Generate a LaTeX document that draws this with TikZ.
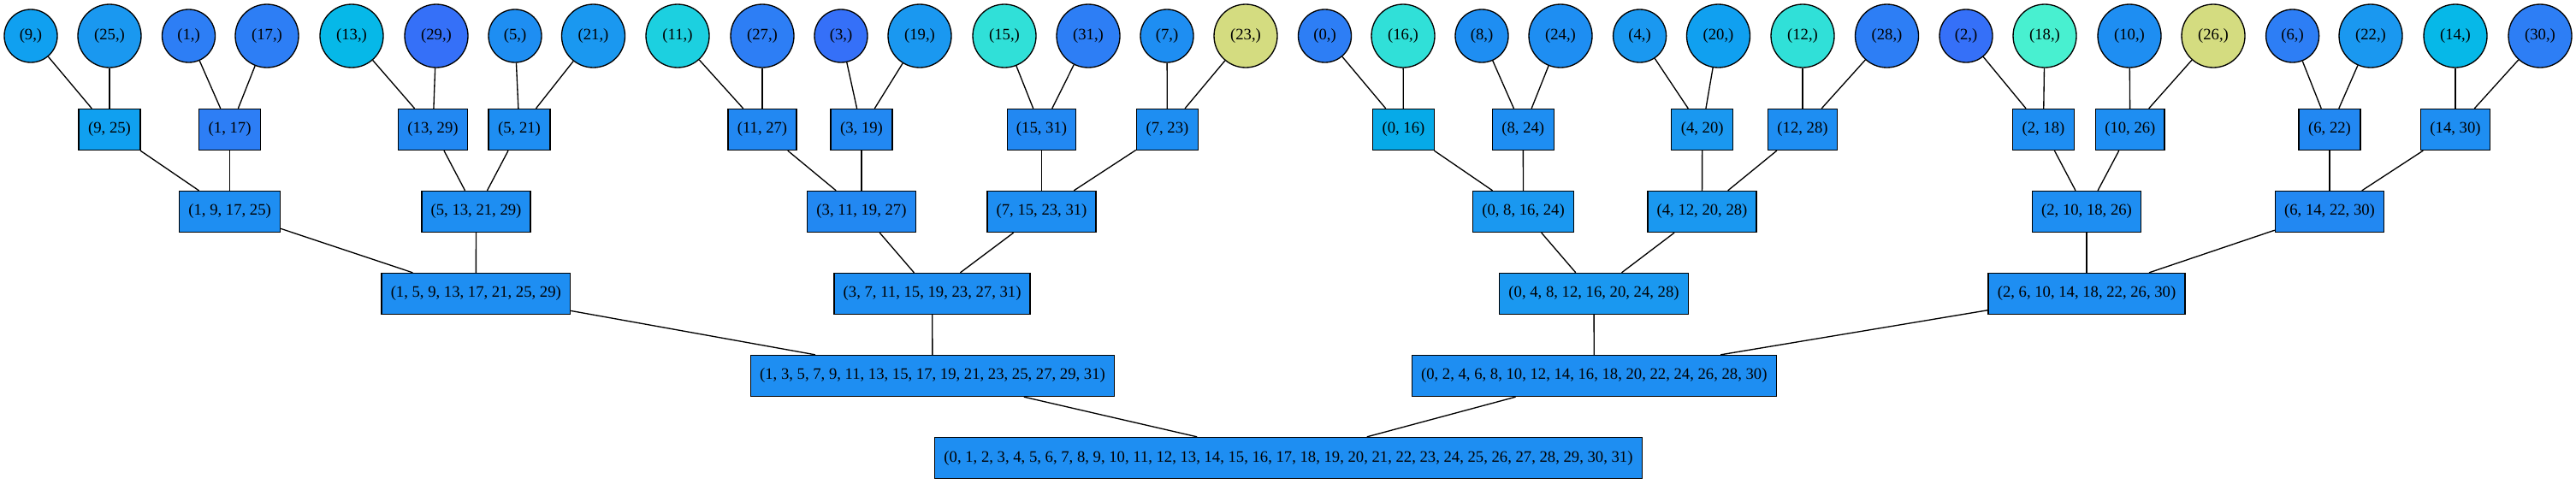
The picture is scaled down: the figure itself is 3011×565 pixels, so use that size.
\documentclass[tikz,border=0pt]{standalone}
\usepackage{fontspec}
\setmainfont{Liberation Serif}
\usepackage{tikz}
\usetikzlibrary{positioning}

\definecolor{skyblue}{HTML}{10A0F0}
\definecolor{azure}{HTML}{1A98F0}
\definecolor{dodger}{HTML}{1E8EF2}
\definecolor{deepdodger}{HTML}{2288F2}
\definecolor{cornflower}{HTML}{2D7EF5}
\definecolor{royal}{HTML}{3570F8}
\definecolor{cerulean}{HTML}{06B8E8}
\definecolor{capri}{HTML}{06AAE8}
\definecolor{cyanish}{HTML}{1CD0E0}
\definecolor{turquoise}{HTML}{30E0D8}
\definecolor{aqua}{HTML}{48F0D0}
\definecolor{khaki}{HTML}{D4DC80}

\tikzset{
	leaf/.style={circle, draw, line width=1pt, minimum size=46.5pt, inner sep=0pt},
	bigleaf/.style={leaf, minimum size=55.5pt},
	group/.style={rectangle, draw, line width=1pt, minimum width=54pt, minimum height=36pt, inner xsep=8pt, inner ysep=0pt},
	link/.style={line width=1pt}
}

\begin{document}
\begin{tikzpicture}[x=0.75pt, y=-0.75pt, font=\fontsize{14}{17}\selectfont]
	\useasboundingbox (0,0) rectangle (3011,565);

	% single elements
	\node[leaf, fill=skyblue] (leaf9) at (36,42) {(9,)};
	\node[bigleaf, fill=azure] (leaf25) at (128,42) {(25,)};
	\node[leaf, fill=cornflower] (leaf1) at (220.5,42) {(1,)};
	\node[bigleaf, fill=cornflower] (leaf17) at (312,42) {(17,)};
	\node[bigleaf, fill=cerulean] (leaf13) at (411,42) {(13,)};
	\node[bigleaf, fill=royal] (leaf29) at (510,42) {(29,)};
	\node[leaf, fill=dodger] (leaf5) at (602,42) {(5,)};
	\node[bigleaf, fill=azure] (leaf21) at (693.5,42) {(21,)};
	\node[bigleaf, fill=cyanish] (leaf11) at (792,42) {(11,)};
	\node[bigleaf, fill=cornflower] (leaf27) at (891,42) {(27,)};
	\node[leaf, fill=royal] (leaf3) at (983,42) {(3,)};
	\node[bigleaf, fill=azure] (leaf19) at (1075,42) {(19,)};
	\node[bigleaf, fill=turquoise] (leaf15) at (1174,42) {(15,)};
	\node[bigleaf, fill=cornflower] (leaf31) at (1272,42) {(31,)};
	\node[leaf, fill=dodger] (leaf7) at (1364,42) {(7,)};
	\node[bigleaf, fill=khaki] (leaf23) at (1456,42) {(23,)};
	\node[leaf, fill=cornflower] (leaf0) at (1548.5,42) {(0,)};
	\node[bigleaf, fill=turquoise] (leaf16) at (1640,42) {(16,)};
	\node[leaf, fill=dodger] (leaf8) at (1732,42) {(8,)};
	\node[bigleaf, fill=dodger] (leaf24) at (1824,42) {(24,)};
	\node[leaf, fill=azure] (leaf4) at (1916.6,42) {(4,)};
	\node[bigleaf, fill=skyblue] (leaf20) at (2008.5,42) {(20,)};
	\node[bigleaf, fill=turquoise] (leaf12) at (2107,42) {(12,)};
	\node[bigleaf, fill=cornflower] (leaf28) at (2205.5,42) {(28,)};
	\node[leaf, fill=royal] (leaf2) at (2298,42) {(2,)};
	\node[bigleaf, fill=aqua] (leaf18) at (2390,42) {(18,)};
	\node[bigleaf, fill=dodger] (leaf10) at (2489,42) {(10,)};
	\node[bigleaf, fill=khaki] (leaf26) at (2587,42) {(26,)};
	\node[leaf, fill=cornflower] (leaf6) at (2679.6,42) {(6,)};
	\node[bigleaf, fill=azure] (leaf22) at (2771,42) {(22,)};
	\node[bigleaf, fill=cerulean] (leaf14) at (2870,42) {(14,)};
	\node[bigleaf, fill=cornflower] (leaf30) at (2969,42) {(30,)};

	% pairs
	\node[group, fill=skyblue] (pair9) at (128,151.5) {(9, 25)};
	\node[group, fill=cornflower] (pair1) at (268.6,151.5) {(1, 17)};
	\node[group, fill=deepdodger] (pair13) at (506,151.5) {(13, 29)};
	\node[group, fill=dodger] (pair5) at (607,151.5) {(5, 21)};
	\node[group, fill=deepdodger] (pair11) at (891,151.5) {(11, 27)};
	\node[group, fill=deepdodger] (pair3) at (1007,151.5) {(3, 19)};
	\node[group, fill=deepdodger] (pair15) at (1217.5,151.5) {(15, 31)};
	\node[group, fill=dodger] (pair7) at (1364.4,151.5) {(7, 23)};
	\node[group, fill=capri] (pair0) at (1640.4,151.5) {(0, 16)};
	\node[group, fill=dodger] (pair8) at (1780.3,151.5) {(8, 24)};
	\node[group, fill=azure] (pair4) at (1989.7,151.5) {(4, 20)};
	\node[group, fill=dodger] (pair12) at (2107,151.5) {(12, 28)};
	\node[group, fill=dodger] (pair2) at (2388.4,151.5) {(2, 18)};
	\node[group, fill=dodger] (pair10) at (2489.8,151.5) {(10, 26)};
	\node[group, fill=deepdodger] (pair6) at (2723,151.5) {(6, 22)};
	\node[group, fill=dodger] (pair14) at (2870,151.5) {(14, 30)};

	% quadruples
	\node[group, fill=dodger] (quad1) at (268.6,247.5) {(1, 9, 17, 25)};
	\node[group, fill=dodger] (quad5) at (556.5,247.5) {(5, 13, 21, 29)};
	\node[group, fill=deepdodger] (quad3) at (1007,247.5) {(3, 11, 19, 27)};
	\node[group, fill=dodger] (quad7) at (1217.5,247.5) {(7, 15, 23, 31)};
	\node[group, fill=azure] (quad0) at (1780.5,247.5) {(0, 8, 16, 24)};
	\node[group, fill=azure] (quad4) at (1989.5,247.5) {(4, 12, 20, 28)};
	\node[group, fill=dodger] (quad2) at (2439,247.5) {(2, 10, 18, 26)};
	\node[group, fill=deepdodger] (quad6) at (2723,247.5) {(6, 14, 22, 30)};

	% octuples, halves and root
	\node[group, fill=dodger] (oct1) at (556.3,343.5) {(1, 5, 9, 13, 17, 21, 25, 29)};
	\node[group, fill=dodger] (oct3) at (1089.6,343.5) {(3, 7, 11, 15, 19, 23, 27, 31)};
	\node[group, fill=azure] (oct0) at (1863,343.5) {(0, 4, 8, 12, 16, 20, 24, 28)};
	\node[group, fill=dodger] (oct2) at (2439,343.5) {(2, 6, 10, 14, 18, 22, 26, 30)};
	\node[group, fill=dodger] (half1) at (1090,439.5) {(1, 3, 5, 7, 9, 11, 13, 15, 17, 19, 21, 23, 25, 27, 29, 31)};
	\node[group, fill=dodger] (half0) at (1863.3,439.5) {(0, 2, 4, 6, 8, 10, 12, 14, 16, 18, 20, 22, 24, 26, 28, 30)};
	\node[group, fill=dodger] (root) at (1506,535.5) {(0, 1, 2, 3, 4, 5, 6, 7, 8, 9, 10, 11, 12, 13, 14, 15, 16, 17, 18, 19, 20, 21, 22, 23, 24, 25, 26, 27, 28, 29, 30, 31)};

	\draw[link] (leaf9) -- (pair9);
	\draw[link] (leaf25) -- (pair9);
	\draw[link] (leaf1) -- (pair1);
	\draw[link] (leaf17) -- (pair1);
	\draw[link] (leaf13) -- (pair13);
	\draw[link] (leaf29) -- (pair13);
	\draw[link] (leaf5) -- (pair5);
	\draw[link] (leaf21) -- (pair5);
	\draw[link] (leaf11) -- (pair11);
	\draw[link] (leaf27) -- (pair11);
	\draw[link] (leaf3) -- (pair3);
	\draw[link] (leaf19) -- (pair3);
	\draw[link] (leaf15) -- (pair15);
	\draw[link] (leaf31) -- (pair15);
	\draw[link] (leaf7) -- (pair7);
	\draw[link] (leaf23) -- (pair7);
	\draw[link] (leaf0) -- (pair0);
	\draw[link] (leaf16) -- (pair0);
	\draw[link] (leaf8) -- (pair8);
	\draw[link] (leaf24) -- (pair8);
	\draw[link] (leaf4) -- (pair4);
	\draw[link] (leaf20) -- (pair4);
	\draw[link] (leaf12) -- (pair12);
	\draw[link] (leaf28) -- (pair12);
	\draw[link] (leaf2) -- (pair2);
	\draw[link] (leaf18) -- (pair2);
	\draw[link] (leaf10) -- (pair10);
	\draw[link] (leaf26) -- (pair10);
	\draw[link] (leaf6) -- (pair6);
	\draw[link] (leaf22) -- (pair6);
	\draw[link] (leaf14) -- (pair14);
	\draw[link] (leaf30) -- (pair14);

	\draw[link] (pair9) -- (quad1);
	\draw[link] (pair1) -- (quad1);
	\draw[link] (pair13) -- (quad5);
	\draw[link] (pair5) -- (quad5);
	\draw[link] (pair11) -- (quad3);
	\draw[link] (pair3) -- (quad3);
	\draw[link] (pair15) -- (quad7);
	\draw[link] (pair7) -- (quad7);
	\draw[link] (pair0) -- (quad0);
	\draw[link] (pair8) -- (quad0);
	\draw[link] (pair4) -- (quad4);
	\draw[link] (pair12) -- (quad4);
	\draw[link] (pair2) -- (quad2);
	\draw[link] (pair10) -- (quad2);
	\draw[link] (pair6) -- (quad6);
	\draw[link] (pair14) -- (quad6);

	\draw[link] (quad1) -- (oct1);
	\draw[link] (quad5) -- (oct1);
	\draw[link] (quad3) -- (oct3);
	\draw[link] (quad7) -- (oct3);
	\draw[link] (quad0) -- (oct0);
	\draw[link] (quad4) -- (oct0);
	\draw[link] (quad2) -- (oct2);
	\draw[link] (quad6) -- (oct2);

	\draw[link] (oct1) -- (half1);
	\draw[link] (oct3) -- (half1);
	\draw[link] (oct0) -- (half0);
	\draw[link] (oct2) -- (half0);
	\draw[link] (half1) -- (root);
	\draw[link] (half0) -- (root);
\end{tikzpicture}
\end{document}
